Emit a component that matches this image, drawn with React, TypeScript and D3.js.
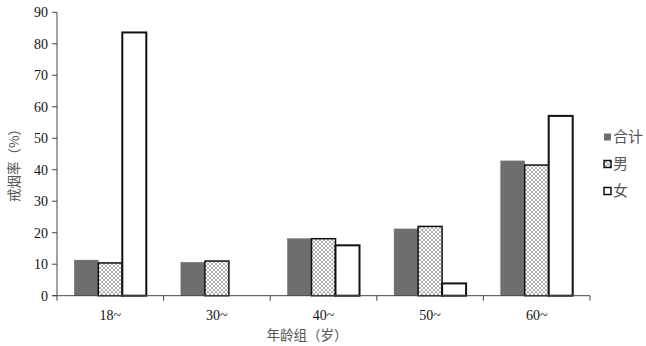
import React from "react";
import * as d3 from "d3";

const categories = ["18~", "30~", "40~", "50~", "60~"];
const seriesNames = ["合计", "男", "女"];
const totalValues = [11.3, 10.6, 18.1, 21.2, 42.8];
const maleValues = [10.4, 11.0, 18.1, 22.0, 41.5];
const femaleValues: (number | null)[] = [83.6, null, 16.0, 3.9, 57.1];
const yTicks = [0, 10, 20, 30, 40, 50, 60, 70, 80, 90];

const W = 646;
const H = 346;
const left = 57;
const right = 590;
const top = 12.3;
const bottom = 295.7;

export default function App() {
  const x = d3.scaleBand<string>().domain(categories).range([left, right]).paddingInner(0).paddingOuter(0);
  const y = d3.scaleLinear().domain([0, 90]).range([bottom, top]);
  const barW = 24;
  const series = [totalValues, maleValues, femaleValues];
  const serif = "'Liberation Serif', 'Times New Roman', serif";
  const cjk = "'Noto Sans CJK SC', sans-serif";

  const fills = ["#6e6e6e", "url(#hatch)", "#ffffff"];
  const strokes = ["#6e6e6e", "#111", "#111"];
  const strokeW = [0.5, 1.5, 2];

  const boundaries = categories.map((c) => x(c) as number).concat([right]);

  return (
    <svg width={W} height={H} style={{ position: "absolute", left: 0, top: 0, background: "#fff" }}>
      <defs>
        <pattern id="hatch" width="4" height="4" patternUnits="userSpaceOnUse">
          <rect width="4" height="4" fill="#fff" />
          <path d="M0,0 L4,4 M4,0 L0,4" stroke="#a8a8a8" strokeWidth="0.9" />
        </pattern>
      </defs>
      {categories.map((c, ci) => {
        const cx = (x(c) as number) + x.bandwidth() / 2;
        const start = cx - (barW * 3) / 2;
        return series.map((s, si) => {
          const v = s[ci];
          if (v == null) return null;
          const bx = start + si * barW;
          return (
            <rect
              key={c + si}
              x={bx}
              y={y(v)}
              width={barW}
              height={y(0) - y(v)}
              fill={fills[si]}
              stroke={strokes[si]}
              strokeWidth={strokeW[si]}
            />
          );
        });
      })}
      <line x1={left} x2={left} y1={top} y2={bottom} stroke="#444" strokeWidth={1} />
      {yTicks.map((t) => (
        <g key={t}>
          <line x1={left - 5} x2={left} y1={y(t)} y2={y(t)} stroke="#444" strokeWidth={1} />
          <text x={left - 9} y={y(t)} dy="0.35em" textAnchor="end" fontFamily={serif} fontSize={14} fill="#111">
            {t}
          </text>
        </g>
      ))}
      <line x1={left - 5} x2={right} y1={bottom} y2={bottom} stroke="#444" strokeWidth={1} />
      {boundaries.map((b, i) => (
        <line key={i} x1={b} x2={b} y1={bottom} y2={bottom + 5} stroke="#444" strokeWidth={1} />
      ))}
      {categories.map((c) => (
        <text
          key={c}
          x={(x(c) as number) + x.bandwidth() / 2}
          y={315.5}
          dy="0.35em"
          textAnchor="middle"
          fontFamily={serif}
          fontSize={14}
          fill="#111"
        >
          {c}
        </text>
      ))}
      <text x={307} y={335} dy="0.35em" textAnchor="middle" fontFamily={cjk} fontSize={13.5} fill="#555">
        年龄组（岁）
      </text>
      <text
        transform="translate(14,162) rotate(-90)"
        textAnchor="middle"
        dy="0.35em"
        fontFamily={cjk}
        fontSize={13.5}
        fill="#555"
      >
        戒烟率（%）
      </text>
      {seriesNames.map((n, i) => {
        const ly = 137 + i * 27;
        return (
          <g key={n}>
            <rect
              x={604}
              y={ly - 3.5}
              width={7}
              height={7}
              fill={fills[i]}
              stroke={strokes[i]}
              strokeWidth={i === 0 ? 0 : 1.5}
            />
            <text x={613} y={ly} dy="0.35em" fontFamily={cjk} fontSize={15} fill="#555">
              {n}
            </text>
          </g>
        );
      })}
    </svg>
  );
}
